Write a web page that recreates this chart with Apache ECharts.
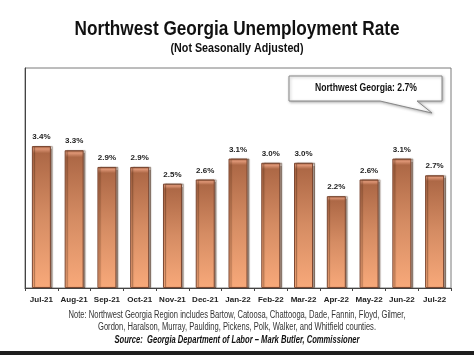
<!DOCTYPE html>
<html><head><meta charset="utf-8">
<script src="https://cdn.jsdelivr.net/npm/echarts@6/dist/echarts.min.js"></script>
<style>html,body{margin:0;padding:0;background:#fff}#c{width:474px;height:355px}</style>
</head><body><div id="c"></div>
<script>
const categories = ['Jul-21','Aug-21','Sep-21','Oct-21','Nov-21','Dec-21','Jan-22','Feb-22','Mar-22','Apr-22','May-22','Jun-22','Jul-22'];
const rates = [3.4,3.3,2.9,2.9,2.5,2.6,3.1,3.0,3.0,2.2,2.6,3.1,2.7];
const titleText = 'Northwest Georgia Unemployment Rate';
const subtitleText = '(Not Seasonally Adjusted)';
const calloutText = 'Northwest Georgia: 2.7%';
const noteLines = ['Note: Northwest Georgia Region includes Bartow, Catoosa, Chattooga, Dade, Fannin, Floyd, Gilmer,','Gordon, Haralson, Murray, Paulding, Pickens, Polk, Walker, and Whitfield counties.'];
const sourceText = 'Source:  Georgia Department of Labor \u2013 Mark Butler, Commissioner';

const SANS = '"Liberation Sans", Arial, sans-serif';
const ctx = document.createElement('canvas').getContext('2d');
function fitScale(text, style, weight, size, target){
  ctx.font = style + ' ' + weight + ' ' + size + 'px ' + SANS;
  return target / ctx.measureText(text).width;
}
function condensedText(text, cx, cy, size, weight, style, target, color){
  return {type:'text', x:cx, y:cy, scaleX:fitScale(text, style, weight, size, target), z:11,
    style:{text:text, font: style + ' ' + weight + ' ' + size + 'px ' + SANS, fill:color, align:'center', verticalAlign:'middle'}};
}

const chart = echarts.init(document.getElementById('c'), null, {renderer:'canvas'});
chart.setOption({
  animation:false,
  backgroundColor:'#fff',
  grid:{left:25,right:23,top:68,bottom:67,show:true,borderColor:'#7a7a7a',borderWidth:1},
  xAxis:{type:'category',data:categories,
    axisLine:{show:true,lineStyle:{color:'#444',width:1}},
    axisTick:{show:true,length:3,lineStyle:{color:'#444'}},
    axisLabel:{fontFamily:SANS,fontSize:8,fontWeight:'bold',color:'#222',margin:8,interval:0}},
  yAxis:{type:'value',min:0,max:5.27,
    axisLine:{show:true,lineStyle:{color:'#444',width:1}},
    axisTick:{show:false},axisLabel:{show:false},splitLine:{show:false}},
  series:[{type:'bar',data:rates,barWidth:19,
    itemStyle:{
      color:new echarts.graphic.LinearGradient(0,0,0,1,[
        {offset:0,color:'#b06a47'},{offset:0.02,color:'#de9676'},{offset:0.05,color:'#ad6846'},
        {offset:0.5,color:'#d58c63'},{offset:1,color:'#f8a97a'}]),
      borderColor:'#7a4630',borderWidth:1,
      shadowColor:'rgba(60,30,10,0.45)',shadowOffsetX:2,shadowOffsetY:0,shadowBlur:1},
    label:{show:true,position:'top',distance:5,formatter:p=>p.value.toFixed(1)+'%',
      fontFamily:SANS,fontSize:8,fontWeight:'bold',color:'#222'}
  }],
  graphic:[
    condensedText(titleText,237,30,19.5,'bold','normal',325,'#111'),
    condensedText(subtitleText,237,49,12.5,'bold','normal',133,'#111'),
    {type:'polygon',shape:{points:[[289,76],[442,76],[442,101],[417,101],[432,113],[380,101],[289,101]]},
     style:{fill:'#fff',stroke:'#888',lineWidth:1,shadowColor:'rgba(0,0,0,0.3)',shadowBlur:3,shadowOffsetX:1,shadowOffsetY:1},z:10},
    condensedText(calloutText,366,88,10.5,'bold','normal',102,'#111'),
    condensedText(noteLines[0],237,315,10,'normal','normal',337,'#333'),
    condensedText(noteLines[1],237,327,10,'normal','normal',278,'#333'),
    condensedText(sourceText,237,340,10,'bold','italic',245,'#111'),
    {type:'rect',shape:{x:0,y:351,width:474,height:4},style:{fill:'#1e1e1e'}}
  ]
});
</script></body></html>
